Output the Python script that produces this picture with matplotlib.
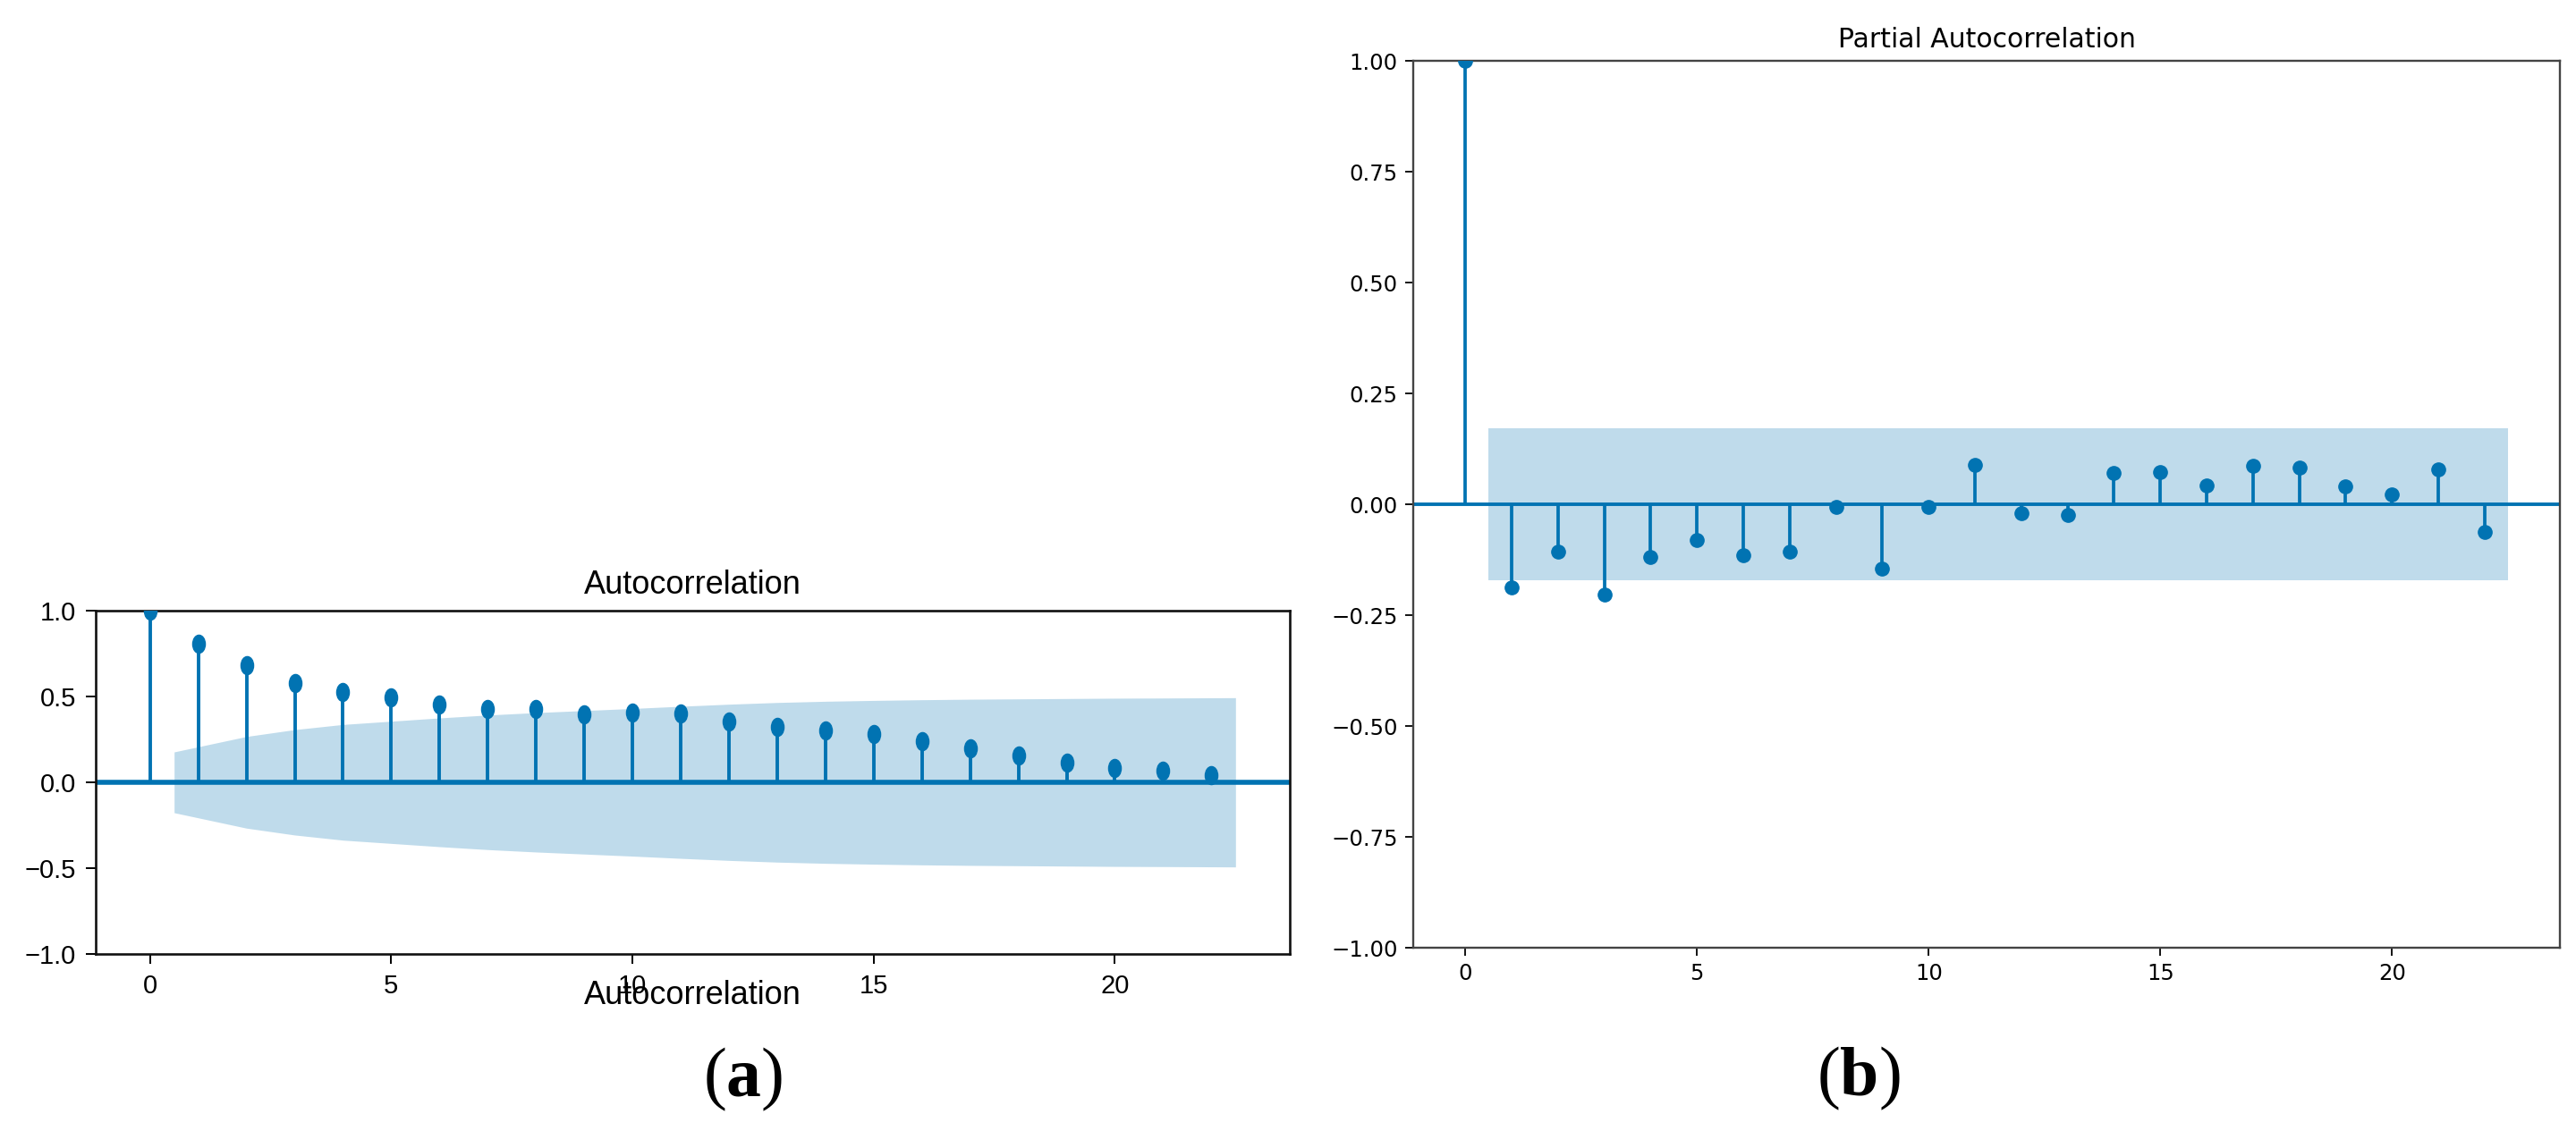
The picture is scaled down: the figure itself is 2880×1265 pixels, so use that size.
import numpy as np
import matplotlib
matplotlib.use("Agg")
import matplotlib.pyplot as plt
from matplotlib.path import Path
from matplotlib.transforms import Affine2D

# ---------------- data ----------------
lags = list(range(23))
acf_values = [1.0, 0.807, 0.68, 0.576, 0.524, 0.493, 0.451, 0.429, 0.429, 0.398,
              0.408, 0.40, 0.354, 0.325, 0.304, 0.281, 0.238, 0.20, 0.156, 0.113,
              0.082, 0.069, 0.043]
# half-width of the confidence band for lags 1..22
acf_conf = [0.177, 0.267, 0.307, 0.337, 0.356, 0.375, 0.392, 0.406, 0.418, 0.430,
            0.443, 0.455, 0.465, 0.472, 0.477, 0.481, 0.484, 0.486, 0.488, 0.490,
            0.491, 0.493]
pacf_values = [1.0, -0.188, -0.106, -0.204, -0.119, -0.080, -0.114, -0.106, -0.006,
               -0.145, -0.006, 0.088, -0.020, -0.024, 0.070, 0.073, 0.043, 0.086,
               0.083, 0.040, 0.023, 0.078, -0.063]
pacf_conf = [0.171] * 22
xticks = [0, 5, 10, 15, 20]
acf_yticks = [-1.0, -0.5, 0.0, 0.5, 1.0]
pacf_yticks = [-1.0, -0.75, -0.5, -0.25, 0.0, 0.25, 0.5, 0.75, 1.0]

COLOR = "#0173b2"
W, H = 2880, 1265

plt.rcParams["mathtext.fontset"] = "custom"
plt.rcParams["mathtext.rm"] = "Liberation Serif"
plt.rcParams["mathtext.bf"] = "Liberation Serif:bold"

fig = plt.figure(figsize=(W / 100, H / 100), dpi=100)


def band_x(n):
    x = np.array(lags[1:n + 1], dtype=float)
    x[0] -= 0.5
    x[-1] += 0.5
    return x


# ---------------- (a) Autocorrelation ----------------
narrow = ["Liberation Sans", "DejaVu Sans"]
axa = fig.add_axes([107 / W, 1 - 1067 / H, (1442 - 107) / W, (1067 - 683) / H])
ell = Path.unit_circle().transformed(Affine2D().scale(0.7, 1.0))
conf_a = np.array(acf_conf)
axa.fill_between(band_x(len(conf_a)), -conf_a, conf_a, color=COLOR, alpha=0.25,
                 lw=0, zorder=1)
axa.vlines(lags, 0, acf_values, color=COLOR, lw=2.8, zorder=2)
axa.plot(lags, acf_values, ls="none", marker=ell, markersize=14.5, color=COLOR,
         zorder=3, clip_on=True)
axa.axhline(0, color=COLOR, lw=4.0, zorder=2)
axa.set_ylim(-1, 1)
axa.set_xticks(xticks)
axa.set_yticks(acf_yticks)
axa.set_yticklabels([f"{v:.1f}".replace("-", "\u2212") for v in acf_yticks])
axa.tick_params(labelsize=21, length=8, width=1.4, pad=8)
for lab in axa.get_xticklabels() + axa.get_yticklabels():
    lab.set_family(narrow)
for s in axa.spines.values():
    s.set_linewidth(1.9)
    s.set_color("#111111")
axa.set_title("Autocorrelation", fontsize=26, family=narrow, pad=14)
fig.text(774 / W, 1 - 1123 / H, "Autocorrelation", fontsize=26, family=narrow,
         ha="center", va="baseline")

# ---------------- (b) Partial Autocorrelation ----------------
axb = fig.add_axes([1580 / W, 1 - 1060 / H, (2862 - 1580) / W, (1060 - 68) / H])
conf_b = np.array(pacf_conf)
axb.fill_between(band_x(len(conf_b)), -conf_b, conf_b, color=COLOR, alpha=0.25,
                 lw=0, zorder=1)
axb.vlines(lags, 0, pacf_values, color=COLOR, lw=2.7, zorder=2)
axb.plot(lags, pacf_values, ls="none", marker="o", markersize=11, color=COLOR,
         zorder=3)
axb.axhline(0, color=COLOR, lw=2.8, zorder=2)
axb.set_ylim(-1, 1)
axb.set_xticks(xticks)
axb.set_yticks(pacf_yticks)
axb.tick_params(labelsize=17.5, length=6.5, width=1.3, pad=6)
for s in axb.spines.values():
    s.set_linewidth(1.7)
    s.set_color("#444444")
axb.set_title("Partial Autocorrelation", fontsize=21.5, pad=11)

# ---------------- panel labels ----------------
fig.text(831 / W, 1 - 1207 / H, r"($\mathbf{a}$)", fontsize=56,
         family="Liberation Serif", ha="center", va="center")
fig.text(2078 / W, 1 - 1206 / H, r"($\mathbf{b}$)", fontsize=56,
         family="Liberation Serif", ha="center", va="center")

fig.savefig("out.png", dpi=100, facecolor="white")
